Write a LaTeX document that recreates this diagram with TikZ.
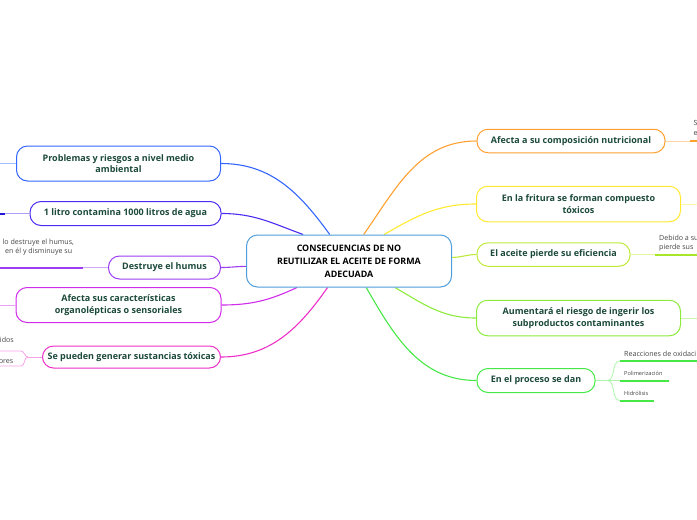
\documentclass[tikz,border=0pt]{standalone}
\usepackage{fontspec}
\setmainfont{Open Sans}
\usetikzlibrary{backgrounds}
\definecolor{txt}{HTML}{1C4A3A}
\definecolor{leaftxt}{HTML}{444444}
\definecolor{cc}{HTML}{4F9EDB}
\definecolor{c1}{HTML}{3366FF}
\definecolor{c2}{HTML}{4A2CF2}
\definecolor{c2d}{HTML}{2418D8}
\definecolor{c3}{HTML}{9D3DF2}
\definecolor{c4}{HTML}{D12CEB}
\definecolor{c5}{HTML}{EE30C8}
\definecolor{c6}{HTML}{FFA030}
\definecolor{c7}{HTML}{FFEA30}
\definecolor{c8}{HTML}{BEEB3A}
\definecolor{c8d}{HTML}{A8E62A}
\definecolor{c9}{HTML}{8CEB3C}
\definecolor{c10}{HTML}{45E845}
\tikzset{
  box/.style={draw=#1, rounded corners=11pt, line width=1pt, fill=white, align=center,
    inner sep=0pt, text=txt, font=\bfseries\fontsize{9}{11.7}\selectfont},
  conn/.style={draw=#1, line width=1.1pt},
  thinline/.style={draw=#1!45, line width=0.8pt},
  leafline/.style={draw=#1, line width=2pt},
  leaf/.style={font=\fontsize{7.1}{9}\selectfont, text=leaftxt, inner sep=0pt},
  smallleaf/.style={font=\fontsize{5.6}{8}\selectfont, text=leaftxt, inner sep=0pt}
}
\begin{document}
\begin{tikzpicture}[x=1pt,y=1pt]
\useasboundingbox (0,0) rectangle (697,-520);
\clip (0,0) rectangle (697,-520);

% central node
\node[box=cc, minimum width=205pt, minimum height=52pt, text=black,
  font=\bfseries\fontsize{8.9}{13}\selectfont] (c) at (349,-261)
  {CONSECUENCIAS DE NO\\REUTILIZAR EL ACEITE DE FORMA\\ADECUADA};

% left nodes
\node[box=c1, minimum width=204pt, minimum height=35pt] (n1) at (118.5,-163.5)
  {Problemas y riesgos a nivel medio\\ambiental};
\node[box=c2, minimum width=191pt, minimum height=24pt] (n2) at (125.5,-213.5)
  {1 litro contamina 1000 litros de agua};
\node[box=c3, minimum width=112pt, minimum height=23pt] (n3) at (164.5,-267.5)
  {Destruye el humus};
\node[box=c4, minimum width=205pt, minimum height=35pt] (n4) at (118.5,-305)
  {Afecta sus características\\organolépticas o sensoriales};
\node[box=c5, minimum width=178pt, minimum height=22pt] (n5) at (131.5,-357)
  {Se pueden generar sustancias tóxicas};

% right nodes
\node[box=c6, minimum width=188pt, minimum height=23.5pt] (n6) at (571,-141)
  {Afecta a su composición nutricional};
\node[box=c7, minimum width=204pt, minimum height=35.5pt] (n7) at (578.5,-204)
  {En la fritura se forman compuesto\\tóxicos};
\node[box=c8, minimum width=153pt, minimum height=23.5pt] (n8) at (553.5,-254.5)
  {El aceite pierde su eficiencia};
\node[box=c9, minimum width=204pt, minimum height=35.5pt] (n9) at (578.5,-318)
  {Aumentará el riesgo de ingerir los\\subproductos contaminantes};
\node[box=c10, minimum width=118pt, minimum height=24pt] (n10) at (536,-380.5)
  {En el proceso se dan};

% main connectors (behind the nodes)
\begin{scope}[on background layer]
\draw[conn=c1] (c.126) to[out=126,in=0] (n1.east);
\draw[conn=c2] (c.150.5) to[out=160,in=0] (n2.east);
\draw[conn=c3] (c.183) to[out=180,in=0] (n3.east);
\draw[conn=c4] (c.207) to[out=205,in=0] (n4.east);
\draw[conn=c5] (c.231) to[out=235,in=0] (n5.east);
\draw[conn=c6] (c.61.7) to[out=55,in=180] (n6.west);
\draw[conn=c7] (c.37.4) to[out=30,in=180] (n7.west);
\draw[conn=c8] (c.2.8) to[out=0,in=180] (n8.west);
\draw[conn=c9] (c.330.5) to[out=330,in=180] (n9.west);
\draw[conn=c10] (c.303) to[out=300,in=180] (n10.west);
\end{scope}

% left leaves
\coordinate (l1) at (0,-163.5);
\draw[thinline=c1] (n1.west) -- (l1);

\coordinate (l2a) at (5,-213.5);
\coordinate (l2) at (0,-213.5);
\draw[thinline=c2] (n2.west) -- (l2a);
\draw[leafline=c2d] (l2a) -- (l2);

\coordinate (l3a) at (83,-267.5);
\coordinate (l3) at (0,-267.5);
\draw[thinline=c3] (n3.west) -- (l3a);
\draw[leafline=c3] (l3a) -- (l3);
\node[leaf, anchor=base west] (t3a) at (2.5,-244) {lo destruye el humus,};
\node[leaf, anchor=base west] (t3b) at (5,-253) {en él y disminuye su};

\coordinate (l4) at (0,-305);
\draw[thinline=c4] (n4.west) -- (l4);

\coordinate (f5) at (28,-357);
\coordinate (l5a) at (21,-351);
\coordinate (l5b) at (21,-366);
\coordinate (l5aa) at (0,-351);
\coordinate (l5bb) at (0,-366);
\draw[thinline=c5] (n5.west) -- (f5);
\draw[thinline=c5] (f5) to[out=180,in=0] (l5a) -- (l5aa);
\draw[thinline=c5] (f5) to[out=180,in=0] (l5b) -- (l5bb);
\node[leaf, anchor=base east] (t5a) at (14,-342) {idos};
\node[leaf, anchor=base east] (t5b) at (13.5,-363) {bres};

% right leaves
\coordinate (r6a) at (690,-141);
\coordinate (r6) at (697,-141);
\draw[thinline=c6] (n6.east) -- (r6a);
\draw[leafline=c6] (r6a) -- (r6);
\node[leaf, anchor=base west] (t6a) at (693.5,-125.5) {S};
\node[leaf, anchor=base west] (t6b) at (693.5,-135.5) {e};

\coordinate (r7) at (697,-204);
\draw[thinline=c7] (n7.east) -- (r7);

\coordinate (r8a) at (655,-254.5);
\coordinate (r8) at (697,-254.5);
\draw[thinline=c8] (n8.east) -- (r8a);
\draw[leafline=c8d] (r8a) -- (r8);
\node[leaf, anchor=base west] (t8a) at (659,-240) {Debido a su};
\node[leaf, anchor=base west] (t8b) at (659,-249.5) {pierde sus};

\coordinate (r9) at (697,-318);
\draw[thinline=c9] (n9.east) -- (r9);

\coordinate (f10) at (607,-380.5);
\coordinate (r10a) at (620,-361);
\coordinate (r10b) at (620,-380.5);
\coordinate (r10c) at (620,-400.5);
\coordinate (r10aa) at (697,-361);
\coordinate (r10bb) at (669,-380.5);
\coordinate (r10cc) at (654,-400.5);
\draw[thinline=c10] (n10.east) -- (f10);
\draw[thinline=c10] (f10) to[out=0,in=180] (r10a);
\draw[thinline=c10] (f10) -- (r10b);
\draw[thinline=c10] (f10) to[out=0,in=180] (r10c);
\draw[leafline=c10] (r10a) -- (r10aa);
\draw[leafline=c10] (r10b) -- (r10bb);
\draw[leafline=c10] (r10c) -- (r10cc);
\node[leaf, anchor=base west] (t10a) at (624,-356) {Reacciones de oxidaci};
\node[smallleaf, anchor=base west] (t10b) at (624,-375.5) {Polimerización};
\node[smallleaf, anchor=base west] (t10c) at (624,-395.5) {Hidrólisis};
\end{tikzpicture}
\end{document}
